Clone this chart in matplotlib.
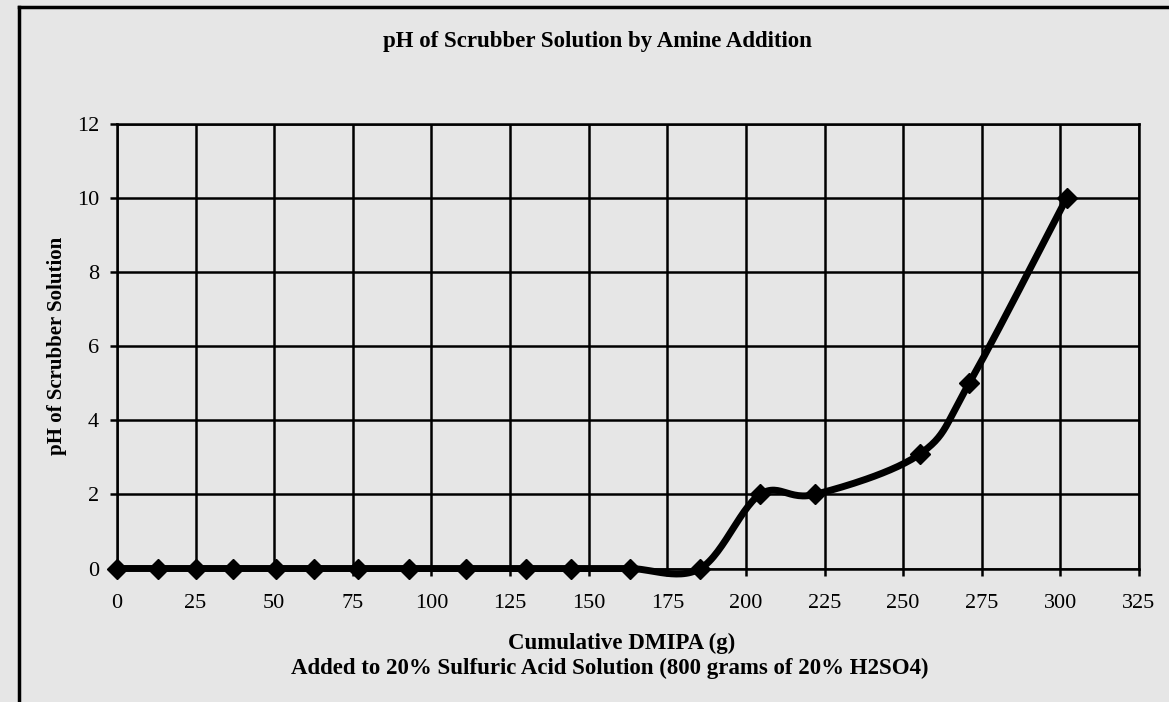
import matplotlib.pyplot as plt
from matplotlib.lines import Line2D
import numpy as np

# DMIPA added (g) and measured pH
dmipa = [0, 13, 25, 37, 50.5, 62.5, 76.5, 93, 111, 130, 144.5, 163,
         185.5, 204.5, 222, 255.5, 271, 302]
ph = [0, 0, 0, 0, 0, 0, 0, 0, 0, 0, 0, 0,
      0, 2.0, 2.0, 3.1, 5.0, 10.0]

x_ticks = [0, 25, 50, 75, 100, 125, 150, 175, 200, 225, 250, 275, 300, 325]
y_ticks = [0, 2, 4, 6, 8, 10, 12]

title = "pH of Scrubber Solution by Amine Addition"
x_label_1 = "Cumulative DMIPA (g)"
x_label_2 = "Added to 20% Sulfuric Acid Solution (800 grams of 20% H2SO4)"
y_label = "pH of Scrubber Solution"


def smooth(xs, ys, n=30):
    # Excel-like smoothed line (Catmull-Rom through the points)
    p = np.column_stack([xs, ys]).astype(float)
    p = np.vstack([p[0], p, p[-1]])
    t = np.linspace(0, 1, n)[:, None]
    out = []
    for i in range(1, len(p) - 2):
        p0, p1, p2, p3 = p[i - 1], p[i], p[i + 1], p[i + 2]
        c1 = p1 + (p2 - p0) / 6
        c2 = p2 - (p3 - p1) / 6
        seg = ((1 - t) ** 3) * p1 + 3 * ((1 - t) ** 2) * t * c1 \
            + 3 * (1 - t) * t ** 2 * c2 + t ** 3 * p2
        out.append(seg)
    out = np.vstack(out)
    return out[:, 0], out[:, 1]


plt.rcParams['font.family'] = ['Liberation Serif', 'DejaVu Serif']

bg = '#e6e6e6'
W, H = 1169, 702
fig = plt.figure(figsize=(11.69, 7.02), dpi=100, facecolor=bg)
ax = fig.add_axes([117 / W, 1 - 568.5 / H, 1022 / W, 444.5 / H])
ax.set_facecolor(bg)

sx, sy = smooth(dmipa, ph)
ax.plot(sx, sy, color='black', lw=5, solid_capstyle='round', zorder=3,
        clip_on=False)
ax.plot(dmipa, ph, linestyle='none', marker='D', markersize=10.5,
        color='black', zorder=4, clip_on=False)

ax.set_xlim(0, 325)
ax.set_ylim(0, 12)
ax.set_xticks(x_ticks)
ax.set_yticks(y_ticks)
ax.grid(True, color='black', lw=1.8)
ax.set_axisbelow(True)
for s in ax.spines.values():
    s.set_linewidth(1.8)
ax.tick_params(length=5, width=1.8, labelsize=16)
ax.tick_params(axis='x', pad=13)
ax.tick_params(axis='y', pad=8)

ax.set_ylabel(y_label, fontsize=15, fontweight='bold', labelpad=7)
fig.text(622 / W, 1 - 643 / H, x_label_1, ha='center', va='center',
         fontsize=16.5, fontweight='bold')
fig.text(610 / W, 1 - 668 / H, x_label_2, ha='center', va='center',
         fontsize=16.5, fontweight='bold')
fig.text(597 / W, 1 - 42 / H, title, ha='center', va='center',
         fontsize=16.5, fontweight='bold')

# chart area border (cut off on the right and bottom)
fig.add_artist(Line2D([19 / W, 1], [1 - 7 / H, 1 - 7 / H], color='black', lw=2.5))
fig.add_artist(Line2D([19 / W, 19 / W], [0, 1 - 7 / H], color='black', lw=2.5))

fig.savefig('out.png', dpi=100, facecolor=bg)
